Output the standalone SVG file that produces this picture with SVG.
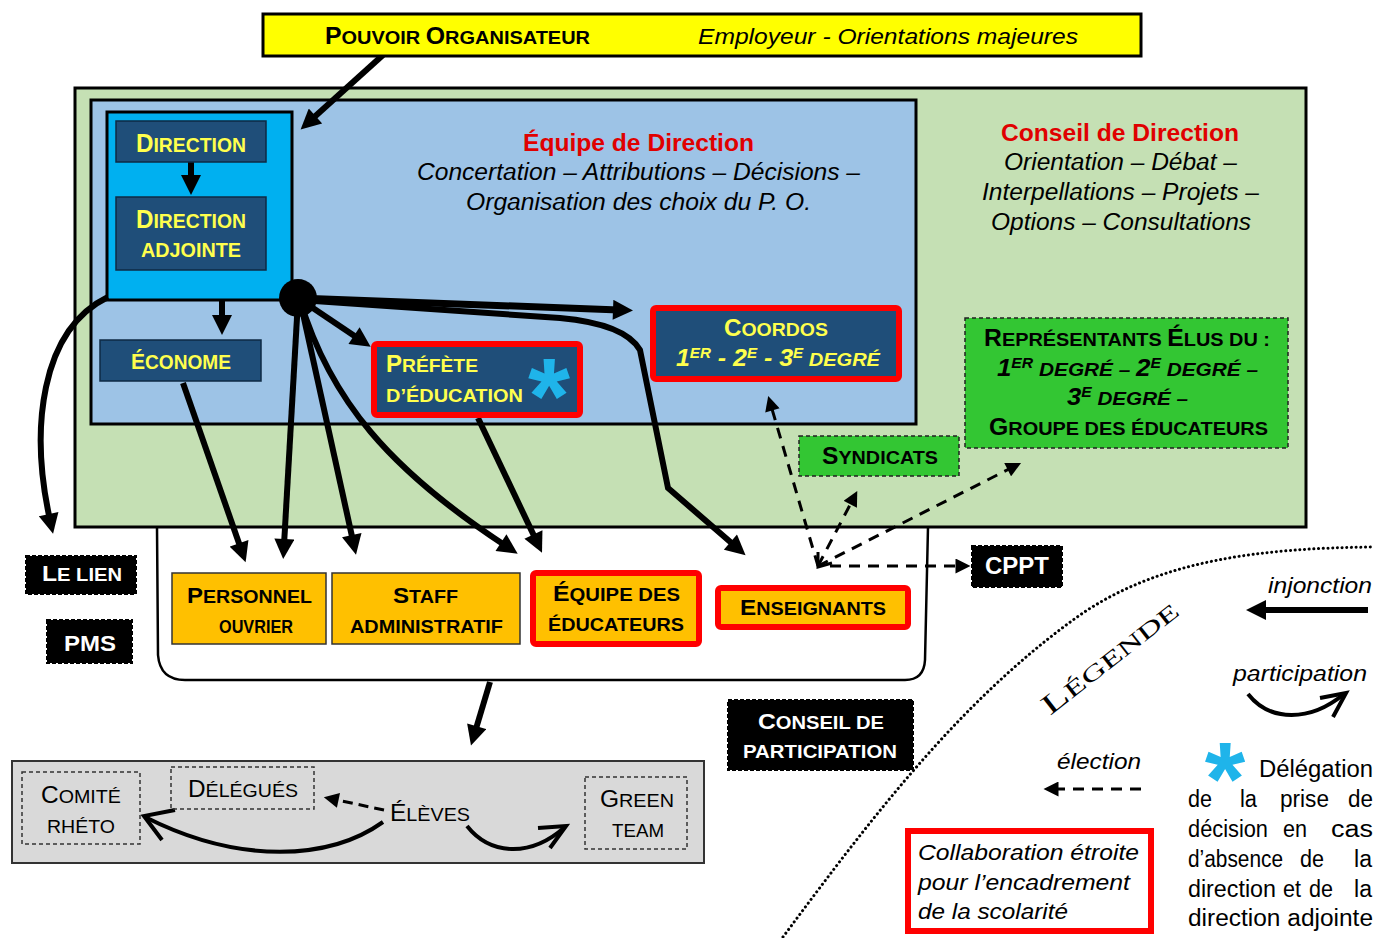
<svg xmlns="http://www.w3.org/2000/svg" width="1375" height="938" viewBox="0 0 1375 938">
<style>
.s{font-family:"Liberation Sans",Arial,sans-serif}
.n{font-family:"Liberation Sans Narrow","Liberation Sans",Arial,sans-serif}
.b{font-weight:bold}
.i{font-style:italic}
.y{fill:#ffff4d}
.w{fill:#fff}
.r{fill:#e00000}
.navy{fill:#1f4e79;stroke:#0e2a44;stroke-width:1.5}
.red{fill:#1f4e79;stroke:#ff0000;stroke-width:6}
.org{fill:#ffc000;stroke:#333;stroke-width:1.5}
.orgred{fill:#ffc000;stroke:#ff0000;stroke-width:6}
.grn{fill:#33c633;stroke:#222;stroke-width:1.5;stroke-dasharray:4 3}
.blk{fill:#000;stroke:#000;stroke-width:2;stroke-dasharray:4 2}
.gd{fill:none;stroke:#333;stroke-width:1.5;stroke-dasharray:4 3}
.c{fill:none;stroke:#000;stroke-width:6}
.ct{fill:none;stroke:#000;stroke-width:7}
.d{fill:none;stroke:#000;stroke-width:3;stroke-dasharray:11 8}
.star{fill:#1fb4ea;font-family:"Liberation Sans",Arial,sans-serif;font-weight:bold}
.lg{font-family:"Liberation Sans Narrow","Liberation Sans",Arial,sans-serif;font-size:23px}
</style>
<defs>
<marker id="ah" viewBox="0 0 10 10" refX="3" refY="5" markerWidth="22" markerHeight="20" markerUnits="userSpaceOnUse" orient="auto"><path d="M0,0L10,5L0,10z"/></marker>
<marker id="dh" viewBox="0 0 10 10" refX="1" refY="5" markerWidth="16" markerHeight="15" markerUnits="userSpaceOnUse" orient="auto"><path d="M0,0L10,5L0,10z"/></marker>
</defs>
<rect width="1375" height="938" fill="#fff"/>

<g id="conseil-direction">
<rect x="75" y="88" width="1231" height="439" fill="#c5e0b4" stroke="#000" stroke-width="3"/>
<text class="s b r" x="1001" y="141" font-size="24" textLength="238" lengthAdjust="spacingAndGlyphs">Conseil de Direction</text>
<text class="n i" x="1004" y="170" font-size="23" textLength="233" lengthAdjust="spacingAndGlyphs">Orientation – Débat –</text>
<text class="n i" x="982" y="200" font-size="23" textLength="277" lengthAdjust="spacingAndGlyphs">Interpellations – Projets –</text>
<text class="n i" x="991" y="230" font-size="23" textLength="260" lengthAdjust="spacingAndGlyphs">Options – Consultations</text>
</g>

<g id="conseil-participation-cadre">
<path d="M157,527 L158,655 Q160,680 185,680 L905,680 Q924,680 925,660 L928,527" fill="none" stroke="#000" stroke-width="2.5"/>
</g>

<g id="equipe-direction">
<rect x="91" y="100" width="825" height="324" fill="#9dc3e6" stroke="#000" stroke-width="3"/>
<text class="s b r" x="523" y="151" font-size="24" textLength="231" lengthAdjust="spacingAndGlyphs">Équipe de Direction</text>
<text class="n i" x="417" y="180" font-size="23" textLength="443" lengthAdjust="spacingAndGlyphs">Concertation – Attributions – Décisions –</text>
<text class="n i" x="466" y="210" font-size="23" textLength="345" lengthAdjust="spacingAndGlyphs">Organisation des choix du P. O.</text>
</g>

<g id="direction-cadre">
<rect x="107" y="112" width="185" height="188" fill="#00b0f0" stroke="#000" stroke-width="3"/>
</g>

<g id="eleves">
<rect x="12" y="761" width="692" height="102" fill="#d9d9d9" stroke="#333" stroke-width="2"/>
</g>

<g id="connectors">
<path class="c" d="M383,55 L311,120" marker-end="url(#ah)"/>
<path class="c" d="M191,162 L191,181" marker-end="url(#ah)"/>
<path class="c" d="M222,300 L222,321" marker-end="url(#ah)"/>
<path class="ct" d="M298,298 L619,310" marker-end="url(#ah)"/>
<path class="c" d="M298,298 L359,339" marker-end="url(#ah)"/>
<path class="c" d="M298,300 L284,545" marker-end="url(#ah)"/>
<path class="c" d="M300,300 L353,541" marker-end="url(#ah)"/>
<path class="c" d="M300,300 C330,400 390,470 506,546" marker-end="url(#ah)"/>
<path class="c" d="M300,300 L560,318 Q625,324 640,350 L668,488 L735,546" marker-end="url(#ah)"/>
<path class="c" d="M478,418 L536,540" marker-end="url(#ah)"/>
<path class="c" d="M183,383 L241,549" marker-end="url(#ah)"/>
<path class="c" d="M108,297 C40,330 30,430 50,520" marker-end="url(#ah)"/>
<path class="c" d="M490,682 L475,732" marker-end="url(#ah)"/>
<circle cx="298" cy="298" r="19" fill="#000"/>
<path class="d" d="M818,566 L772,409" marker-end="url(#dh)"/>
<path class="d" d="M818,566 L851,503" marker-end="url(#dh)"/>
<path class="d" d="M818,566 L1009,469" marker-end="url(#dh)"/>
<path class="d" d="M830,566 L957,566" marker-end="url(#dh)"/>
<path d="M818,552 L818,567 L832,563" fill="none" stroke="#000" stroke-width="3"/>
<path d="M384,810 L337,800" fill="none" stroke="#000" stroke-width="3" stroke-dasharray="10 6" marker-end="url(#dh)"/>
<path d="M383,822 C330,860 240,865 145,817" fill="none" stroke="#000" stroke-width="4"/>
<path d="M175,810 L144,816 L162,840" fill="none" stroke="#000" stroke-width="4"/>
<path d="M467,826 C490,855 530,858 565,827" fill="none" stroke="#000" stroke-width="4"/>
<path d="M538,828 L566,826 L550,848" fill="none" stroke="#000" stroke-width="4"/>
</g>

<g id="pouvoir-organisateur">
<rect x="263" y="14" width="878" height="42" fill="#ffff00" stroke="#000" stroke-width="3"/>
<text class="s b" x="325" y="44" font-size="18.5" textLength="265" lengthAdjust="spacingAndGlyphs"><tspan font-size="23">P</tspan>OUVOIR <tspan font-size="23">O</tspan>RGANISATEUR</text>
<text class="n i" x="698" y="44" font-size="22" textLength="380" lengthAdjust="spacingAndGlyphs">Employeur - Orientations majeures</text>
</g>

<g id="direction">
<rect class="navy" x="116" y="121" width="150" height="41"/>
<text class="s b y" x="136" y="152" font-size="20" textLength="110" lengthAdjust="spacingAndGlyphs"><tspan font-size="25">D</tspan>IRECTION</text>
</g>
<g id="direction-adjointe">
<rect class="navy" x="116" y="197" width="150" height="73"/>
<text class="s b y" x="136" y="228" font-size="20" textLength="110" lengthAdjust="spacingAndGlyphs"><tspan font-size="25">D</tspan>IRECTION</text>
<text class="s b y" x="141" y="257" font-size="20" textLength="100" lengthAdjust="spacingAndGlyphs">ADJOINTE</text>
</g>
<g id="econome">
<rect class="navy" x="100" y="340" width="161" height="41"/>
<text class="s b y" x="131" y="369" font-size="20" textLength="100" lengthAdjust="spacingAndGlyphs"><tspan font-size="22">É</tspan>CONOME</text>
</g>
<g id="prefete">
<rect class="red" x="374" y="344" width="206" height="71" rx="3"/>
<text class="s b y" x="386" y="372" font-size="18.5" textLength="92" lengthAdjust="spacingAndGlyphs"><tspan font-size="23">P</tspan>RÉFÈTE</text>
<text class="s b y" x="386" y="402" font-size="18.5" textLength="137" lengthAdjust="spacingAndGlyphs">D’ÉDUCATION</text>
<text class="star" x="549" y="433" font-size="108" text-anchor="middle">*</text>
</g>
<g id="coordos">
<rect class="red" x="653" y="308" width="246" height="71" rx="3"/>
<text class="s b y" x="724" y="336" font-size="18.5" textLength="104" lengthAdjust="spacingAndGlyphs"><tspan font-size="23">C</tspan>OORDOS</text>
<text class="s b i y" x="676" y="366" font-size="18.5" textLength="204" lengthAdjust="spacingAndGlyphs"><tspan font-size="23">1</tspan><tspan font-size="14" dy="-8">ER</tspan><tspan font-size="23" dy="8"> - 2</tspan><tspan font-size="14" dy="-8">E</tspan><tspan font-size="23" dy="8"> - 3</tspan><tspan font-size="14" dy="-8">E</tspan><tspan dy="8"> DEGRÉ</tspan></text>
</g>
<g id="representants">
<rect class="grn" x="965" y="318" width="323" height="130"/>
<text class="s b" x="984" y="346" font-size="18.5" textLength="286" lengthAdjust="spacingAndGlyphs"><tspan font-size="23">R</tspan>EPRÉSENTANTS <tspan font-size="23">É</tspan>LUS DU :</text>
<text class="s b i" x="997" y="376" font-size="18.5" textLength="261" lengthAdjust="spacingAndGlyphs"><tspan font-size="23">1</tspan><tspan font-size="14" dy="-8">ER</tspan><tspan dy="8"> DEGRÉ – </tspan><tspan font-size="23">2</tspan><tspan font-size="14" dy="-8">E</tspan><tspan dy="8"> DEGRÉ –</tspan></text>
<text class="s b i" x="1067" y="405" font-size="18.5" textLength="121" lengthAdjust="spacingAndGlyphs"><tspan font-size="23">3</tspan><tspan font-size="14" dy="-8">E</tspan><tspan dy="8"> DEGRÉ –</tspan></text>
<text class="s b" x="989" y="435" font-size="18.5" textLength="279" lengthAdjust="spacingAndGlyphs"><tspan font-size="23">G</tspan>ROUPE DES ÉDUCATEURS</text>
</g>
<g id="syndicats">
<rect class="grn" x="799" y="436" width="160" height="40"/>
<text class="s b" x="822" y="464" font-size="18.5" textLength="116" lengthAdjust="spacingAndGlyphs"><tspan font-size="23">S</tspan>YNDICATS</text>
</g>
<g id="le-lien">
<rect class="blk" x="26" y="556" width="110" height="38"/>
<text class="s b w" x="42" y="581" font-size="18" textLength="80" lengthAdjust="spacingAndGlyphs"><tspan font-size="22">L</tspan>E LIEN</text>
</g>
<g id="pms">
<rect class="blk" x="47" y="620" width="85" height="43"/>
<text class="s b w" x="64" y="651" font-size="22" textLength="52" lengthAdjust="spacingAndGlyphs">PMS</text>
</g>
<g id="personnel-ouvrier">
<rect class="org" x="172" y="573" width="154" height="71"/>
<text class="s b" x="187" y="603" font-size="18" textLength="125" lengthAdjust="spacingAndGlyphs"><tspan font-size="22">P</tspan>ERSONNEL</text>
<text class="s b" x="219" y="633" font-size="18" textLength="74" lengthAdjust="spacingAndGlyphs">OUVRIER</text>
</g>
<g id="staff-administratif">
<rect class="org" x="332" y="573" width="188" height="71"/>
<text class="s b" x="393" y="603" font-size="18" textLength="65" lengthAdjust="spacingAndGlyphs"><tspan font-size="22">S</tspan>TAFF</text>
<text class="s b" x="350" y="633" font-size="18" textLength="153" lengthAdjust="spacingAndGlyphs">ADMINISTRATIF</text>
</g>
<g id="equipe-educateurs">
<rect class="orgred" x="533" y="573" width="166" height="71" rx="3"/>
<text class="s b" x="553" y="601" font-size="18" textLength="127" lengthAdjust="spacingAndGlyphs"><tspan font-size="22">É</tspan>QUIPE DES</text>
<text class="s b" x="548" y="631" font-size="18" textLength="136" lengthAdjust="spacingAndGlyphs">ÉDUCATEURS</text>
</g>
<g id="enseignants">
<rect class="orgred" x="718" y="588" width="190" height="39" rx="3"/>
<text class="s b" x="740" y="615" font-size="18" textLength="146" lengthAdjust="spacingAndGlyphs"><tspan font-size="22">E</tspan>NSEIGNANTS</text>
</g>
<g id="cppt">
<rect class="blk" x="972" y="546" width="90" height="41"/>
<text class="s b w" x="985" y="574" font-size="23" textLength="64" lengthAdjust="spacingAndGlyphs">CPPT</text>
</g>
<g id="conseil-participation">
<rect class="blk" x="728" y="700" width="185" height="70"/>
<text class="s b w" x="758" y="729" font-size="18" textLength="126" lengthAdjust="spacingAndGlyphs"><tspan font-size="22">C</tspan>ONSEIL DE</text>
<text class="s b w" x="743" y="758" font-size="18" textLength="154" lengthAdjust="spacingAndGlyphs">PARTICIPATION</text>
</g>
<g id="comite-rheto">
<rect class="gd" x="22" y="772" width="118" height="72"/>
<text class="n" x="41" y="803" font-size="18.5" textLength="80" lengthAdjust="spacingAndGlyphs"><tspan font-size="23">C</tspan>OMITÉ</text>
<text class="n" x="47" y="833" font-size="18.5" textLength="68" lengthAdjust="spacingAndGlyphs">RHÉTO</text>
</g>
<g id="delegues">
<rect class="gd" x="171" y="767" width="143" height="42"/>
<text class="n" x="188" y="797" font-size="18.5" textLength="110" lengthAdjust="spacingAndGlyphs"><tspan font-size="23">D</tspan>ÉLÉGUÉS</text>
</g>
<g id="eleves-label">
<text class="n" x="390" y="821" font-size="18.5" textLength="80" lengthAdjust="spacingAndGlyphs"><tspan font-size="23">É</tspan>LÈVES</text>
</g>
<g id="green-team">
<rect class="gd" x="585" y="777" width="102" height="72"/>
<text class="n" x="600" y="807" font-size="18.5" textLength="74" lengthAdjust="spacingAndGlyphs"><tspan font-size="23">G</tspan>REEN</text>
<text class="n" x="612" y="837" font-size="18.5" textLength="52" lengthAdjust="spacingAndGlyphs">TEAM</text>
</g>

<g id="legende">
<path d="M783,937 C870,820 960,700 1080,615 C1160,560 1260,548 1375,547" fill="none" stroke="#000" stroke-width="3" stroke-linecap="round" stroke-dasharray="0.1 4.6"/>
<text transform="translate(1050,716) rotate(-38)" font-family="Liberation Serif,serif" font-size="22" textLength="166" lengthAdjust="spacingAndGlyphs"><tspan font-size="28">L</tspan>ÉGENDE</text>
<text class="n i" x="1268" y="593" font-size="22" textLength="104" lengthAdjust="spacingAndGlyphs">injonction</text>
<path class="c" d="M1368,610 L1260,610" marker-end="url(#ah)"/>
<text class="n i" x="1233" y="681" font-size="22" textLength="134" lengthAdjust="spacingAndGlyphs">participation</text>
<path d="M1248,694 C1270,722 1310,722 1344,694" fill="none" stroke="#000" stroke-width="4"/>
<path d="M1320,698 L1346,693 L1333,717" fill="none" stroke="#000" stroke-width="4"/>
<text class="n i" x="1057" y="769" font-size="22" textLength="84" lengthAdjust="spacingAndGlyphs">élection</text>
<path class="d" d="M1141,789 L1057,789" stroke-dasharray="13 9" marker-end="url(#dh)"/>
<text class="star" x="1225" y="815" font-size="104" text-anchor="middle">*</text>
<text class="lg" x="1259" y="777" textLength="114" lengthAdjust="spacingAndGlyphs">Délégation</text>
<text class="lg" x="1188" y="807" textLength="24" lengthAdjust="spacingAndGlyphs">de</text>
<text class="lg" x="1240" y="807" textLength="17" lengthAdjust="spacingAndGlyphs">la</text>
<text class="lg" x="1280" y="807" textLength="49" lengthAdjust="spacingAndGlyphs">prise</text>
<text class="lg" x="1348" y="807" textLength="25" lengthAdjust="spacingAndGlyphs">de</text>
<text class="lg" x="1188" y="837" textLength="80" lengthAdjust="spacingAndGlyphs">décision</text>
<text class="lg" x="1283" y="837" textLength="24" lengthAdjust="spacingAndGlyphs">en</text>
<text class="lg" x="1331" y="837" textLength="42" lengthAdjust="spacingAndGlyphs">cas</text>
<text class="lg" x="1188" y="867" textLength="95" lengthAdjust="spacingAndGlyphs">d’absence</text>
<text class="lg" x="1300" y="867" textLength="24" lengthAdjust="spacingAndGlyphs">de</text>
<text class="lg" x="1354" y="867" textLength="18" lengthAdjust="spacingAndGlyphs">la</text>
<text class="lg" x="1188" y="897" textLength="88" lengthAdjust="spacingAndGlyphs">direction</text>
<text class="lg" x="1283" y="897" textLength="18" lengthAdjust="spacingAndGlyphs">et</text>
<text class="lg" x="1309" y="897" textLength="24" lengthAdjust="spacingAndGlyphs">de</text>
<text class="lg" x="1354" y="897" textLength="18" lengthAdjust="spacingAndGlyphs">la</text>
<text class="lg" x="1188" y="926" textLength="185" lengthAdjust="spacingAndGlyphs">direction adjointe</text>
<rect x="908" y="831" width="243" height="100" fill="#fff" stroke="#ff0000" stroke-width="6"/>
<text class="n i" x="918" y="860" font-size="22" textLength="221" lengthAdjust="spacingAndGlyphs">Collaboration étroite</text>
<text class="n i" x="918" y="890" font-size="22" textLength="212" lengthAdjust="spacingAndGlyphs">pour l’encadrement</text>
<text class="n i" x="918" y="919" font-size="22" textLength="150" lengthAdjust="spacingAndGlyphs">de la scolarité</text>
</g>
</svg>
